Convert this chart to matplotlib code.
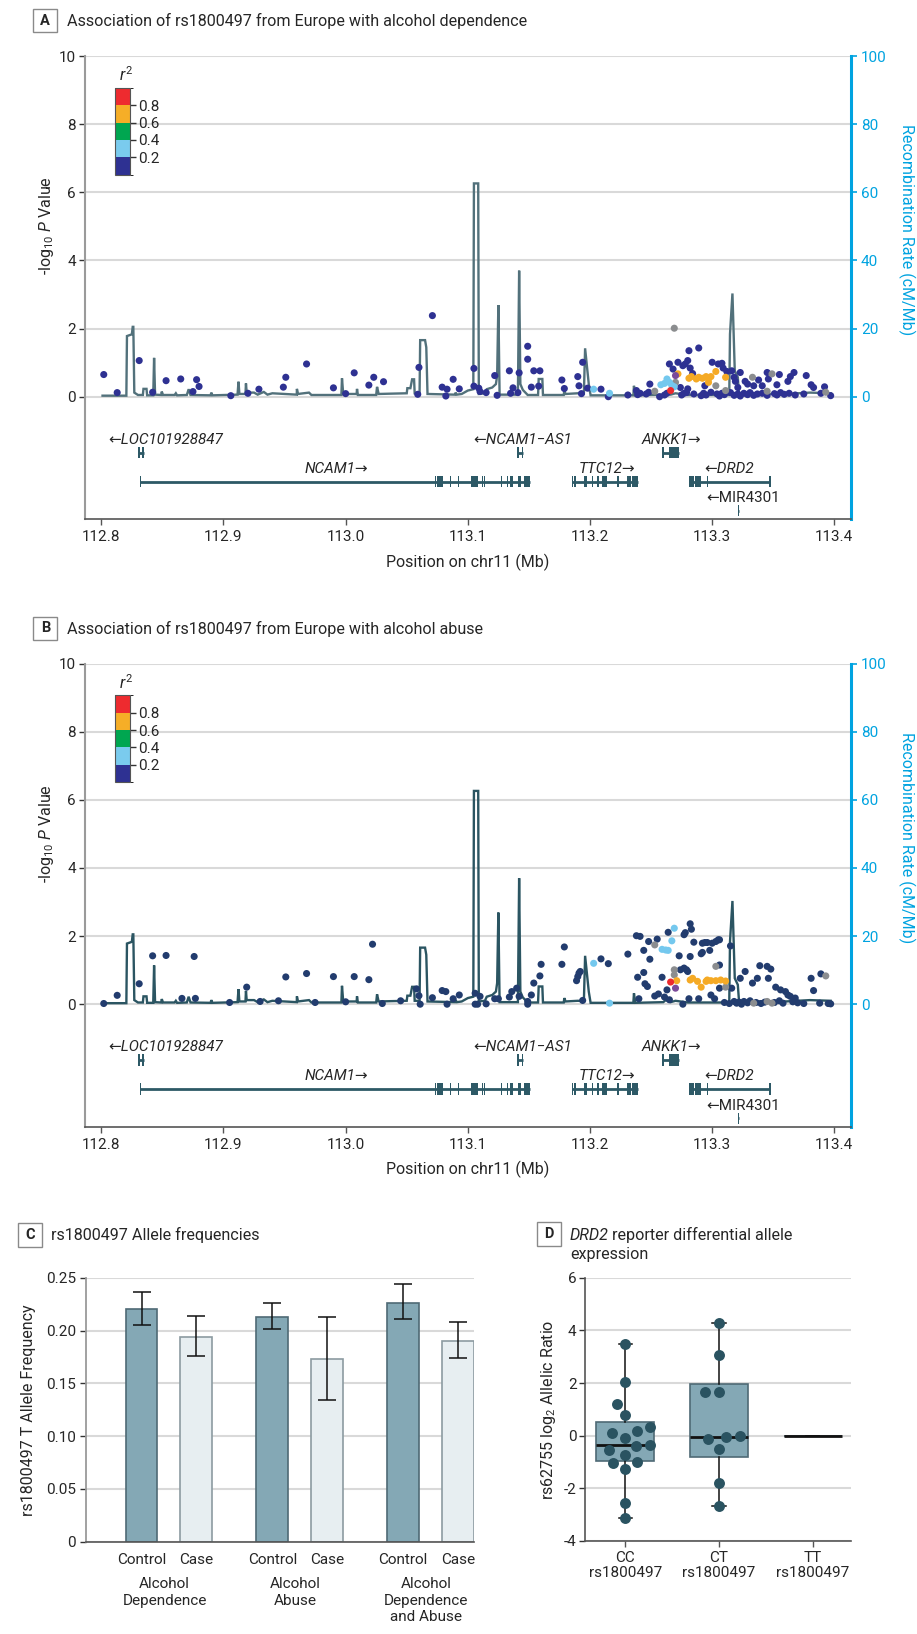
import numpy as np
import matplotlib
matplotlib.use("Agg")
import matplotlib.pyplot as plt
from matplotlib.colors import ListedColormap, BoundaryNorm
from matplotlib.cm import ScalarMappable
from matplotlib.patches import Rectangle
import matplotlib.transforms as mtransforms

plt.rcParams['font.family'] = ['Roboto', 'DejaVu Sans']
plt.rcParams['mathtext.fontset'] = 'custom'
plt.rcParams['mathtext.rm'] = 'Roboto'
plt.rcParams['mathtext.it'] = 'Roboto:italic'

# ------------------------------------------------------------------ DATA
# recombination rate (cM/Mb) along chr11 (Mb)
rec_pos = [112.8010, 112.8205, 112.8210, 112.8250, 112.8257, 112.8262, 112.8270, 112.8300,
           112.8340, 112.8345, 112.8370, 112.8375, 112.8425, 112.8432, 112.8440, 112.8490,
           112.8495, 112.8505, 112.8600, 112.8610, 112.8620, 112.8700, 112.8715, 112.8730,
           112.8895, 112.8900, 112.8910, 112.9115, 112.9123, 112.9130, 112.9180, 112.9184,
           112.9190, 112.9250, 112.9280, 112.9330, 112.9360, 112.9400, 112.9600, 112.9601,
           112.9610, 112.9700, 112.9720, 112.9965, 112.9970, 112.9980, 113.0090, 113.0093,
           113.0100, 113.0250, 113.0257, 113.0270, 113.0380, 113.0500, 113.0505, 113.0530,
           113.0544, 113.0560, 113.0565, 113.0605, 113.0610, 113.0650, 113.0660, 113.0670,
           113.0895, 113.0900, 113.0910, 113.0950, 113.1000, 113.1045, 113.1050, 113.1085,
           113.1090, 113.1140, 113.1155, 113.1200, 113.1230, 113.1240, 113.1250, 113.1260,
           113.1410, 113.1420, 113.1430, 113.1450, 113.1490, 113.1575, 113.1580, 113.1610,
           113.1615, 113.1785, 113.1790, 113.1800, 113.1900, 113.1950, 113.1960, 113.1990,
           113.2005, 113.2355, 113.2360, 113.2370, 113.2600, 113.2620, 113.2660, 113.2700,
           113.2800, 113.3140, 113.3146, 113.3166, 113.3185, 113.3210, 113.3220, 113.3600,
           113.3800, 113.3970]
rec_rate = [0.3, 0.3, 17.8, 18.3, 20.5, 20.5, 1.2, 0.5,
            0.5, 2.3, 2.3, 0.4, 0.4, 11.4, 0.6, 0.5,
            1.5, 0.5, 0.5, 1.0, 0.4, 0.5, 2.2, 0.5,
            0.4, 1.2, 0.4, 0.6, 4.4, 0.8, 0.8, 3.9,
            1.2, 1.2, 0.6, 1.4, 0.6, 1.0, 0.6, 2.3,
            0.8, 1.2, 0.5, 0.5, 5.4, 0.8, 0.8, 2.3,
            0.5, 0.5, 2.9, 0.8, 0.9, 1.0, 2.5, 2.5,
            5.1, 5.1, 1.0, 1.0, 16.6, 16.6, 14.5, 0.8,
            0.6, 1.2, 0.6, 0.8, 1.8, 2.2, 62.6, 62.6,
            0.8, 1.0, 2.2, 2.7, 3.7, 6.2, 26.9, 0.6,
            0.6, 37.0, 3.7, 2.0, 0.5, 0.5, 5.2, 5.2,
            0.5, 0.5, 1.8, 0.8, 1.0, 0.9, 14.2, 3.7,
            0.4, 0.4, 3.2, 0.4, 0.6, 1.2, 0.6, 1.0,
            0.5, 0.5, 18.4, 30.3, 7.6, 5.7, 0.8, 0.8,
            1.2, 1.0]

# LD class codes: n r2<0.2, l 0.2-0.4, o 0.6-0.8, r >0.8, g no r2 (grey), p index variant
# Panel A: alcohol dependence
a_pos = [112.802, 112.813, 112.831, 112.842, 112.853, 112.865, 112.878, 112.880, 112.875, 112.906,
         112.920, 112.929, 112.949, 112.951, 112.968, 112.990, 113.000, 113.007, 113.019, 113.023,
         113.031, 113.059, 113.060, 113.071, 113.079, 113.082, 113.083, 113.088, 113.093, 113.105,
         113.105, 113.109, 113.110, 113.115, 113.122, 113.124, 113.134, 113.135, 113.137, 113.141,
         113.142, 113.149, 113.149, 113.152, 113.154, 113.159, 113.158, 113.177, 113.179, 113.190,
         113.191, 113.193, 113.194, 113.198, 113.203, 113.209, 113.216, 113.215, 113.231, 113.238,
         113.239, 113.241, 113.246, 113.248, 113.249, 113.253, 113.257, 113.261, 113.263, 113.265,
         113.266, 113.258, 113.261, 113.263, 113.265, 113.267, 113.269, 113.270, 113.269, 113.270,
         113.272, 113.268, 113.272, 113.276, 113.278, 113.280, 113.281, 113.289, 113.282, 113.284,
         113.274, 113.280, 113.294, 113.300, 113.305, 113.308, 113.309, 113.312, 113.316, 113.318,
         113.319, 113.323, 113.321, 113.327, 113.329, 113.334, 113.338, 113.341, 113.345, 113.346,
         113.355, 113.353, 113.362, 113.364, 113.367, 113.377, 113.381, 113.383, 113.392, 113.397,
         113.281, 113.283, 113.287, 113.289, 113.292, 113.295, 113.297, 113.297, 113.299, 113.303,
         113.311, 113.303, 113.311, 113.333, 113.349, 113.345, 113.393, 113.275, 113.277, 113.279,
         113.285, 113.291, 113.293, 113.295, 113.299, 113.304, 113.306, 113.308, 113.310, 113.315,
         113.318, 113.321, 113.323, 113.326, 113.329, 113.331, 113.334, 113.337, 113.341, 113.345,
         113.351, 113.353, 113.356, 113.359, 113.363, 113.368, 113.375, 113.389]
a_logp = [0.65, 0.12, 1.06, 0.13, 0.47, 0.52, 0.50, 0.30, 0.15, 0.03,
          0.10, 0.22, 0.28, 0.57, 0.96, 0.26, 0.09, 0.70, 0.34, 0.57,
          0.44, 0.07, 0.86, 2.38, 0.28, 0.02, 0.22, 0.51, 0.23, 0.83,
          0.31, 0.25, 0.15, 0.12, 0.62, 0.04, 0.76, 0.10, 0.26, 0.12,
          0.70, 1.48, 1.10, 0.28, 0.76, 0.76, 0.31, 0.49, 0.24, 0.59,
          0.32, 0.09, 1.01, 0.25, 0.22, 0.22, 0.10, 0.00, 0.05, 0.18,
          0.06, 0.10, 0.08, 0.13, 0.37, 0.16, 0.00, 0.05, 0.10, 0.96,
          0.18, 0.35, 0.39, 0.52, 0.42, 0.33, 0.29, 0.62, 2.01, 0.42,
          0.67, 0.81, 1.01, 0.91, 0.96, 1.06, 1.35, 1.43, 0.84, 0.68,
          0.27, 0.23, 0.32, 1.01, 0.96, 0.98, 0.84, 0.74, 0.76, 0.57,
          0.45, 0.71, 0.27, 0.45, 0.37, 0.32, 0.49, 0.32, 0.71, 0.52,
          0.65, 0.35, 0.45, 0.59, 0.71, 0.62, 0.35, 0.27, 0.29, 0.03,
          0.54, 0.59, 0.52, 0.57, 0.54, 0.59, 0.52, 0.42, 0.59, 0.74,
          0.57, 0.32, 0.18, 0.57, 0.67, 0.16, 0.13, 0.05, 0.10, 0.12,
          0.08, 0.03, 0.10, 0.05, 0.13, 0.08, 0.02, 0.10, 0.06, 0.12,
          0.04, 0.08, 0.02, 0.10, 0.06, 0.12, 0.04, 0.08, 0.10, 0.04,
          0.09, 0.05, 0.12, 0.07, 0.10, 0.05, 0.08, 0.10]
a_ld = list("nnnnnnnnnn"
            "nnnnnnnnnn"
            "nnnnnnnnnn"
            "nnnnnnnnnn"
            "nnnnnnnnnn"
            "nnnnlnlnnn"
            "nnnnngnnnn"
            "rllllllpgg"
            "onnnnnnnnn"
            "nnnnnnnnnn"
            "nnnnnnnnnn"
            "nnnnnnnnnn"
            "oooooooooo"
            "ogggggg" "nnn"
            "nnnnnnnnnn"
            "nnnnnnnnnn"
            "nnnnnnnn")

# Panel B: alcohol abuse
b_pos = [112.802, 112.813, 112.831, 112.842, 112.853, 112.876, 112.866, 112.877, 112.905, 112.919,
         112.951, 112.968, 112.990, 113.007, 113.019, 113.022, 112.930, 112.945, 112.975, 113.000,
         113.030, 113.045, 113.058, 113.060, 113.061, 113.071, 113.079, 113.082, 113.083, 113.088,
         113.093, 113.106, 113.106, 113.108, 113.110, 113.115, 113.122, 113.125, 113.134, 113.136,
         113.140, 113.142, 113.149, 113.149, 113.152, 113.154, 113.159, 113.160, 113.177, 113.179,
         113.189, 113.190, 113.191, 113.192, 113.194, 113.203, 113.209, 113.215, 113.216, 113.231,
         113.238, 113.241, 113.239, 113.244, 113.245, 113.247, 113.244, 113.248, 113.249, 113.240,
         113.253, 113.255, 113.253, 113.256, 113.259, 113.261, 113.263, 113.265, 113.259, 113.262,
         113.264, 113.267, 113.269, 113.264, 113.269, 113.269, 113.266, 113.270, 113.271, 113.273,
         113.274, 113.277, 113.279, 113.280, 113.276, 113.277, 113.278, 113.282, 113.283, 113.282,
         113.285, 113.281, 113.289, 113.292, 113.294, 113.296, 113.291, 113.292, 113.298, 113.300,
         113.303, 113.305, 113.306, 113.303, 113.306, 113.299, 113.302, 113.306, 113.311, 113.315,
         113.316, 113.282, 113.284, 113.288, 113.291, 113.295, 113.296, 113.299, 113.303, 113.307,
         113.311, 113.323, 113.327, 113.333, 113.337, 113.339, 113.345, 113.346, 113.348, 113.352,
         113.356, 113.360, 113.362, 113.364, 113.368, 113.381, 113.383, 113.389, 113.393, 113.334,
         113.345, 113.349, 113.310, 113.314, 113.318, 113.320, 113.322, 113.324, 113.326, 113.329,
         113.331, 113.336, 113.340, 113.343, 113.351, 113.355, 113.358, 113.366, 113.370, 113.375,
         113.388, 113.395, 113.397]
b_logp = [0.02, 0.26, 0.60, 1.42, 1.43, 1.40, 0.17, 0.17, 0.05, 0.50,
          0.80, 0.90, 0.81, 0.81, 0.72, 1.76, 0.08, 0.10, 0.05, 0.07,
          0.02, 0.10, 0.45, 0.25, 0.00, 0.19, 0.40, 0.37, 0.00, 0.16,
          0.27, 0.32, 0.00, 0.00, 0.23, 0.01, 0.16, 0.16, 0.21, 0.37,
          0.47, 0.23, 0.08, 0.00, 0.27, 0.62, 0.83, 1.17, 1.17, 1.68,
          0.69, 0.81, 0.91, 0.96, 0.11, 1.20, 1.33, 1.19, 0.03, 1.47,
          2.01, 1.99, 0.79, 0.93, 0.60, 0.52, 1.58, 1.84, 1.32, 0.16,
          1.74, 1.91, 0.24, 0.30, 0.79, 0.21, 0.42, 0.13, 1.61, 1.59,
          1.58, 1.86, 2.23, 2.11, 1.01, 0.86, 0.65, 0.47, 0.69, 1.42,
          1.01, 1.06, 1.01, 0.96, 0.00, 2.04, 2.10, 2.36, 2.20, 1.40,
          1.82, 0.16, 0.16, 1.79, 1.81, 1.81, 1.48, 1.52, 1.58, 1.79,
          1.84, 1.89, 1.89, 1.11, 1.15, 0.27, 0.16, 0.47, 0.50, 1.71,
          0.47, 0.71, 0.76, 0.67, 0.50, 0.67, 0.71, 0.69, 0.69, 0.71,
          0.68, 0.76, 0.96, 0.62, 0.76, 1.13, 1.11, 0.76, 1.03, 0.50,
          0.42, 0.37, 0.27, 0.23, 0.18, 0.76, 0.40, 0.89, 0.83, 0.03,
          0.08, 0.03, 0.05, 0.02, 0.08, 0.03, 0.06, 0.00, 0.08, 0.04,
          0.10, 0.05, 0.02, 0.06, 0.05, 0.10, 0.03, 0.07, 0.04, 0.02,
          0.03, 0.02, 0.01]
b_ld = list("nnnnnnnnnn"
            "nnnnnnnnnn"
            "nnnnnnnnnn"
            "nnnnnnnnnn"
            "nnnnnnnnnn"
            "nnnnnlnnln"
            "nnnnnnnnnn"
            "gnnnnnnnll"
            "lllnggrpon"
            "nnnnnnnnnn"
            "nnnnnnnnnn"
            "nnngnnnngn"
            "nooooooooo"
            "onnnnnnnnn"
            "nnnnnnnngg"
            "ggnnnnnnnn"
            "nnnnnnnnnn"
            "nnn")

# genes (Mb)
gene_names = ["LOC101928847", "NCAM1", "NCAM1\u2212AS1", "ANKK1", "TTC12", "DRD2", "MIR4301"]
gene_strand = ["-", "+", "-", "+", "+", "-", "-"]
gene_start = [112.8298, 112.8320, 113.1405, 113.2590, 113.1856, 113.2811, 113.3210]
gene_end = [112.8350, 113.1506, 113.1454, 113.2725, 113.2389, 113.3473, 113.3222]
gene_exons = [
    [(112.8298, 112.8316), (112.8332, 112.8350)],
    [(112.8315, 112.8325), (113.0730, 113.0740), (113.0749, 113.0795), (113.0853, 113.0863),
     (113.0916, 113.0926), (113.1022, 113.1082), (113.1113, 113.1123), (113.1132, 113.1142),
     (113.1271, 113.1281), (113.1318, 113.1328), (113.1344, 113.1372), (113.1413, 113.1432),
     (113.1459, 113.1506)],
    [(113.1405, 113.1417), (113.1442, 113.1454)],
    [(113.2590, 113.2598), (113.2648, 113.2725)],
    [(113.1850, 113.1860), (113.1870, 113.1880), (113.1951, 113.1979), (113.2015, 113.2025),
     (113.2061, 113.2071), (113.2101, 113.2143), (113.2219, 113.2238), (113.2306, 113.2333),
     (113.2347, 113.2389)],
    [(113.2811, 113.2848), (113.2858, 113.2907), (113.2957, 113.2967), (113.3468, 113.3478)],
    [(113.3210, 113.3222)],
]

# Panel C: rs1800497 T allele frequency
phenotypes = ["Alcohol\nDependence", "Alcohol\nAbuse", "Alcohol\nDependence\nand Abuse"]
control_freq = [0.220, 0.213, 0.226]
control_lo = [0.205, 0.201, 0.2105]
control_hi = [0.236, 0.226, 0.244]
case_freq = [0.1935, 0.173, 0.190]
case_lo = [0.1755, 0.134, 0.1736]
case_hi = [0.214, 0.213, 0.208]

# Panel D: rs62755 log2 allelic ratio by rs1800497 genotype
genotypes = ["CC\nrs1800497", "CT\nrs1800497", "TT\nrs1800497"]
cc_values = [3.48, 2.05, 1.19, 0.77, 0.16, -0.10, 0.09, 0.32, -0.37, -0.41, -0.54, -0.73,
             -0.99, -1.05, -1.28, -2.57, -3.14]
ct_values = [4.27, 3.05, 1.67, 1.65, -0.04, -0.14, -0.01, -0.49, -1.80, -2.67]
box_med = [-0.35, -0.04, 0.0]
box_q1 = [-0.95, -0.82, 0.0]
box_q3 = [0.51, 1.96, 0.0]
box_lo = [-3.14, -2.67, 0.0]
box_hi = [3.48, 4.27, 0.0]

# ------------------------------------------------------------------ LAYOUT
W, H = 917, 1634
fig = plt.figure(figsize=(W / 100, H / 100), dpi=100)


def frect(l, t, r, b):
    return [l / W, 1 - b / H, (r - l) / W, (b - t) / H]


TXT = '#262626'
BLUE = '#00a3e0'
GRID = '#d9d9d9'
GENE = '#2d5966'
LDCOL = {'l': '#74c8ee', 'o': '#f5aa25', 'r': '#ec2a2e', 'g': '#8b8d8f', 'p': '#7b4a9a'}
LEG_COLS = ['#2e3192', '#7acbee', '#00a650', '#f6ae27', '#ee2b2f']
TICK_FS = 11
LAB_FS = 11.5
TITLE_FS = 11.6


def panel_label(letter, l, t, r, b):
    fig.patches.append(Rectangle((l / W, 1 - b / H), (r - l) / W, (b - t) / H, transform=fig.transFigure,
                                 fill=False, ec='#8a8a8a', lw=1.0))
    fig.text((l + r) / 2 / W, 1 - (t + b) / 2 / H, letter, ha='center', va='center',
             fontsize=10.5, fontweight='bold', color=TXT)


def draw_locus(top, letter, title, pos, logp, ld, navy, linecol):
    bot = top + 463
    ax = fig.add_axes(frect(84.7, top, 850.7, bot))
    ax2 = ax.twinx()
    ax.set_zorder(ax2.get_zorder() + 1)
    ax.patch.set_visible(False)
    ax.set_xlim(112.7864, 113.4134)
    ax.set_ylim(-3.59, 10)
    ax2.set_ylim(-35.9, 100)
    ax.set_yticks(range(0, 11, 2))
    ax2.set_yticks(range(0, 101, 20))
    ax.set_xticks([112.8, 112.9, 113.0, 113.1, 113.2, 113.3, 113.4])
    ax.set_xticklabels(['112.8', '112.9', '113.0', '113.1', '113.2', '113.3', '113.4'])
    ax2.grid(axis='y', color=GRID, lw=1.5)
    ax2.set_axisbelow(True)
    for s in ['top', 'right']:
        ax.spines[s].set_visible(False)
    for s in ['top', 'left', 'bottom']:
        ax2.spines[s].set_visible(False)
    ax.spines['left'].set_color('#9a9a9a')
    ax.spines['left'].set_linewidth(1.5)
    ax.spines['bottom'].set_color('#555555')
    ax.spines['bottom'].set_linewidth(1.2)
    ax2.spines['right'].set_color(BLUE)
    ax2.spines['right'].set_linewidth(2.2)
    ax.tick_params(axis='y', length=4.3, width=1, color='#333333', pad=2, labelsize=TICK_FS, labelcolor=TXT)
    ax.tick_params(axis='x', length=4, width=1, color='#555555', pad=4, labelsize=TICK_FS, labelcolor=TXT)
    ax2.tick_params(axis='y', length=4.3, width=1.2, color=BLUE, pad=3, labelsize=TICK_FS, labelcolor=BLUE)

    # recombination
    ax2.plot(rec_pos, rec_rate, color=linecol, lw=1.7, solid_joinstyle='miter', zorder=2)

    # association points
    prio = {'n': 0, 'g': 1, 'l': 2, 'o': 3, 'r': 4, 'p': 5}
    order = sorted(range(len(pos)), key=lambda i: prio[ld[i]])
    px = np.array(pos)[order]
    py = np.array(logp)[order]
    cols = [navy if ld[i] == 'n' else LDCOL[ld[i]] for i in order]
    ax.scatter(px, py, s=26, c=cols, linewidths=0, zorder=3, clip_on=False)

    # genes
    row_y = {0: -1.64, 1: -2.49, 2: -3.35}
    rows = [0, 1, 0, 0, 1, 1, 2]
    lab_x = [112.853, 112.992, 113.145, 113.267, 113.214, 113.314, 113.325]
    for k, name in enumerate(gene_names):
        y = row_y[rows[k]]
        ax.plot([gene_start[k], gene_end[k]], [y, y], color=GENE, lw=2.0, solid_capstyle='butt', zorder=2)
        xr = [(a, max(b - a, 0.0012)) for a, b in gene_exons[k]]
        ax.broken_barh(xr, (y - 0.165, 0.33), facecolors=GENE, edgecolor='none', zorder=2)
        lab = ('\u2190' + name) if gene_strand[k] == '-' else (name + '\u2192')
        ax.text(lab_x[k], y + 0.37, lab, ha='center', va='center', fontsize=11, color=TXT,
                fontstyle='normal' if name.startswith('MIR') else 'italic')

    # axis labels
    fig.text(46 / W, 1 - (top + 170) / H, r'-log$_{10}$ $\mathit{P}$ Value', rotation=90,
             ha='center', va='center', fontsize=LAB_FS, color=TXT)
    fig.text(907 / W, 1 - (top + 174) / H, 'Recombination Rate (cM/Mb)', rotation=270,
             ha='center', va='center', fontsize=LAB_FS, color=BLUE)
    fig.text(467.7 / W, 1 - (bot + 43) / H, 'Position on chr11 (Mb)', ha='center', va='center',
             fontsize=LAB_FS, color=TXT)

    # r2 legend
    cax = fig.add_axes(frect(115, top + 31.7, 130, top + 118.7))
    cmap = ListedColormap(LEG_COLS)
    norm = BoundaryNorm([0, 0.2, 0.4, 0.6, 0.8, 1.0], 5)
    cb = fig.colorbar(ScalarMappable(norm=norm, cmap=cmap), cax=cax, ticks=[0.2, 0.4, 0.6, 0.8])
    cb.outline.set_edgecolor('#555555')
    cb.outline.set_linewidth(0.8)
    cb.ax.set_yticklabels(['0.2', '0.4', '0.6', '0.8'])
    cb.ax.tick_params(length=4.5, width=1, labelsize=TICK_FS, pad=1.5, color='#333333', labelcolor=TXT)
    cax.text(0.75, 1.04, r'$\mathit{r}^2$', transform=cax.transAxes, ha='center', va='bottom',
             fontsize=11.5, color=TXT)

    # panel heading
    panel_label(letter, 33.3, top - 47, 57.3, top - 23.7)
    fig.text(66.7 / W, 1 - (top - 35) / H, title, ha='left', va='center', fontsize=TITLE_FS, color=TXT)
    return ax


draw_locus(56, 'A', 'Association of rs1800497 from Europe with alcohol dependence',
           a_pos, a_logp, a_ld, '#2e3192', '#52717b')
draw_locus(663.5, 'B', 'Association of rs1800497 from Europe with alcohol abuse',
           b_pos, b_logp, b_ld, '#223c6e', '#2b5562')

# ------------------------------------------------------------------ PANEL C
axc = fig.add_axes(frect(85.7, 1277.7, 473.7, 1541.7))
grp_gap = 2.39
cpos = np.arange(len(phenotypes)) * grp_gap
kpos = cpos + 1.0
bw = 0.58
cf = np.array(control_freq)
kf = np.array(case_freq)
axc.bar(cpos, cf, width=bw, color='#84a8b5', edgecolor='#4f6a75', lw=1.2, zorder=2)
axc.bar(kpos, kf, width=bw, color='#e7eef1', edgecolor='#8c9ba1', lw=1.2, zorder=2)
axc.errorbar(cpos, cf, yerr=[cf - np.array(control_lo), np.array(control_hi) - cf], fmt='none',
             ecolor='#111111', elinewidth=1.1, capsize=6.5, capthick=1.1, zorder=3)
axc.errorbar(kpos, kf, yerr=[kf - np.array(case_lo), np.array(case_hi) - kf], fmt='none',
             ecolor='#111111', elinewidth=1.1, capsize=6.5, capthick=1.1, zorder=3)
axc.set_xlim(-1.02, 6.07)
axc.set_ylim(0, 0.25)
axc.set_yticks([0, 0.05, 0.10, 0.15, 0.20, 0.25])
axc.set_yticklabels(['0', '0.05', '0.10', '0.15', '0.20', '0.25'])
axc.yaxis.grid(True, color=GRID, lw=1.5, zorder=0)
axc.set_axisbelow(True)
allpos = np.sort(np.concatenate([cpos, kpos]))
axc.set_xticks(allpos)
axc.set_xticklabels(['Control', 'Case'] * len(phenotypes))
axc.tick_params(axis='x', length=0, pad=8, labelsize=TICK_FS, labelcolor=TXT)
axc.tick_params(axis='y', length=4.1, width=1, pad=2.9, labelsize=TICK_FS, labelcolor=TXT, color='#333333')
for s in ['top', 'right']:
    axc.spines[s].set_visible(False)
axc.spines['left'].set_color('#9a9a9a')
axc.spines['left'].set_linewidth(1.3)
axc.spines['bottom'].set_color('#555555')
axc.spines['bottom'].set_linewidth(1.2)
tr = mtransforms.blended_transform_factory(axc.transData, axc.transAxes)
for g, ph in enumerate(phenotypes):
    axc.text((cpos[g] + kpos[g]) / 2 - 0.08, -0.135, ph, transform=tr, ha='center', va='top',
             fontsize=TICK_FS, color=TXT, linespacing=1.2)
fig.text(28.3 / W, 1 - 1409.7 / H, 'rs1800497 T Allele Frequency', rotation=90, ha='center',
         va='center', fontsize=LAB_FS, color=TXT)
panel_label('C', 18.3, 1223.3, 42.3, 1246.7)
fig.text(50.7 / W, 1 - 1235 / H, 'rs1800497 Allele frequencies', ha='left', va='center',
         fontsize=TITLE_FS, color=TXT)

# ------------------------------------------------------------------ PANEL D
axd = fig.add_axes(frect(585.3, 1277.7, 850.7, 1541.0))
axd.set_xlim(-0.427, 2.405)
axd.set_ylim(-4, 6)
stats = []
for i in range(3):
    stats.append({'med': box_med[i], 'q1': box_q1[i], 'q3': box_q3[i], 'whislo': box_lo[i],
                  'whishi': box_hi[i], 'fliers': []})
axd.bxp(stats, positions=[0, 1, 2], widths=0.62, patch_artist=True, showfliers=False,
        boxprops=dict(facecolor='#84a8b5', edgecolor='#4f6a75', lw=1.2),
        medianprops=dict(color='#111111', lw=2.0),
        whiskerprops=dict(color='#111111', lw=1.1),
        capprops=dict(color='#111111', lw=1.1), capwidths=0.14, manage_ticks=False, zorder=2)


def swarm_offsets(vals, ppu_x, ppu_y, d):
    vals = np.asarray(vals)
    order = np.argsort(vals)
    placed = []
    offs = np.zeros(len(vals))
    for i in order:
        y = vals[i] * ppu_y
        cands = [0.0]
        for (qx, qy) in placed:
            dy = abs(qy - y)
            if dy < d:
                dx = np.sqrt(d * d - dy * dy)
                cands += [qx - dx, qx + dx]
        cands = sorted(cands, key=lambda c: (abs(c), c))
        chosen = cands[-1]
        for c in cands:
            if all((c - qx) ** 2 + (y - qy) ** 2 >= d * d - 1e-6 for qx, qy in placed):
                chosen = c
                break
        placed.append((chosen, y))
        offs[i] = chosen / ppu_x
    return offs


for g, vals in enumerate([cc_values, ct_values]):
    off = swarm_offsets(vals, 93.7, 26.33, 14.0)
    axd.scatter(g + off, vals, s=62, color='#2a5361', linewidths=0, zorder=4, clip_on=False)

axd.set_yticks([-4, -2, 0, 2, 4, 6])
axd.set_yticklabels(['-4', '-2', '0', '2', '4', '6'])
axd.set_xticks([0, 1, 2])
axd.set_xticklabels(genotypes, linespacing=1.1)
axd.yaxis.grid(True, color=GRID, lw=1.5, zorder=0)
axd.set_axisbelow(True)
axd.tick_params(axis='x', length=4.3, width=1, color='#555555', pad=3, labelsize=TICK_FS, labelcolor=TXT)
axd.tick_params(axis='y', length=4.3, width=1, color='#333333', pad=2, labelsize=TICK_FS, labelcolor=TXT)
for s in ['top', 'right']:
    axd.spines[s].set_visible(False)
axd.spines['left'].set_color('#555555')
axd.spines['left'].set_linewidth(1.2)
axd.spines['bottom'].set_color('#555555')
axd.spines['bottom'].set_linewidth(1.2)
fig.text(548.3 / W, 1 - 1409.7 / H, r'rs62755 log$_2$ Allelic Ratio', rotation=90, ha='center',
         va='center', fontsize=LAB_FS, color=TXT)
panel_label('D', 537.3, 1222.3, 561, 1246)
t1 = fig.text(570 / W, 1 - 1235 / H, 'DRD2', ha='left', va='center', fontsize=TITLE_FS, color=TXT,
              fontstyle='italic')
renderer = fig.canvas.get_renderer()
bb = t1.get_window_extent(renderer)
fig.text((bb.x1 + 3.5) / W, 1 - 1235 / H, 'reporter differential allele', ha='left', va='center',
         fontsize=TITLE_FS, color=TXT)
fig.text(570 / W, 1 - 1255 / H, 'expression', ha='left', va='center', fontsize=TITLE_FS, color=TXT)

fig.savefig('out.png', dpi=100, facecolor='white')
